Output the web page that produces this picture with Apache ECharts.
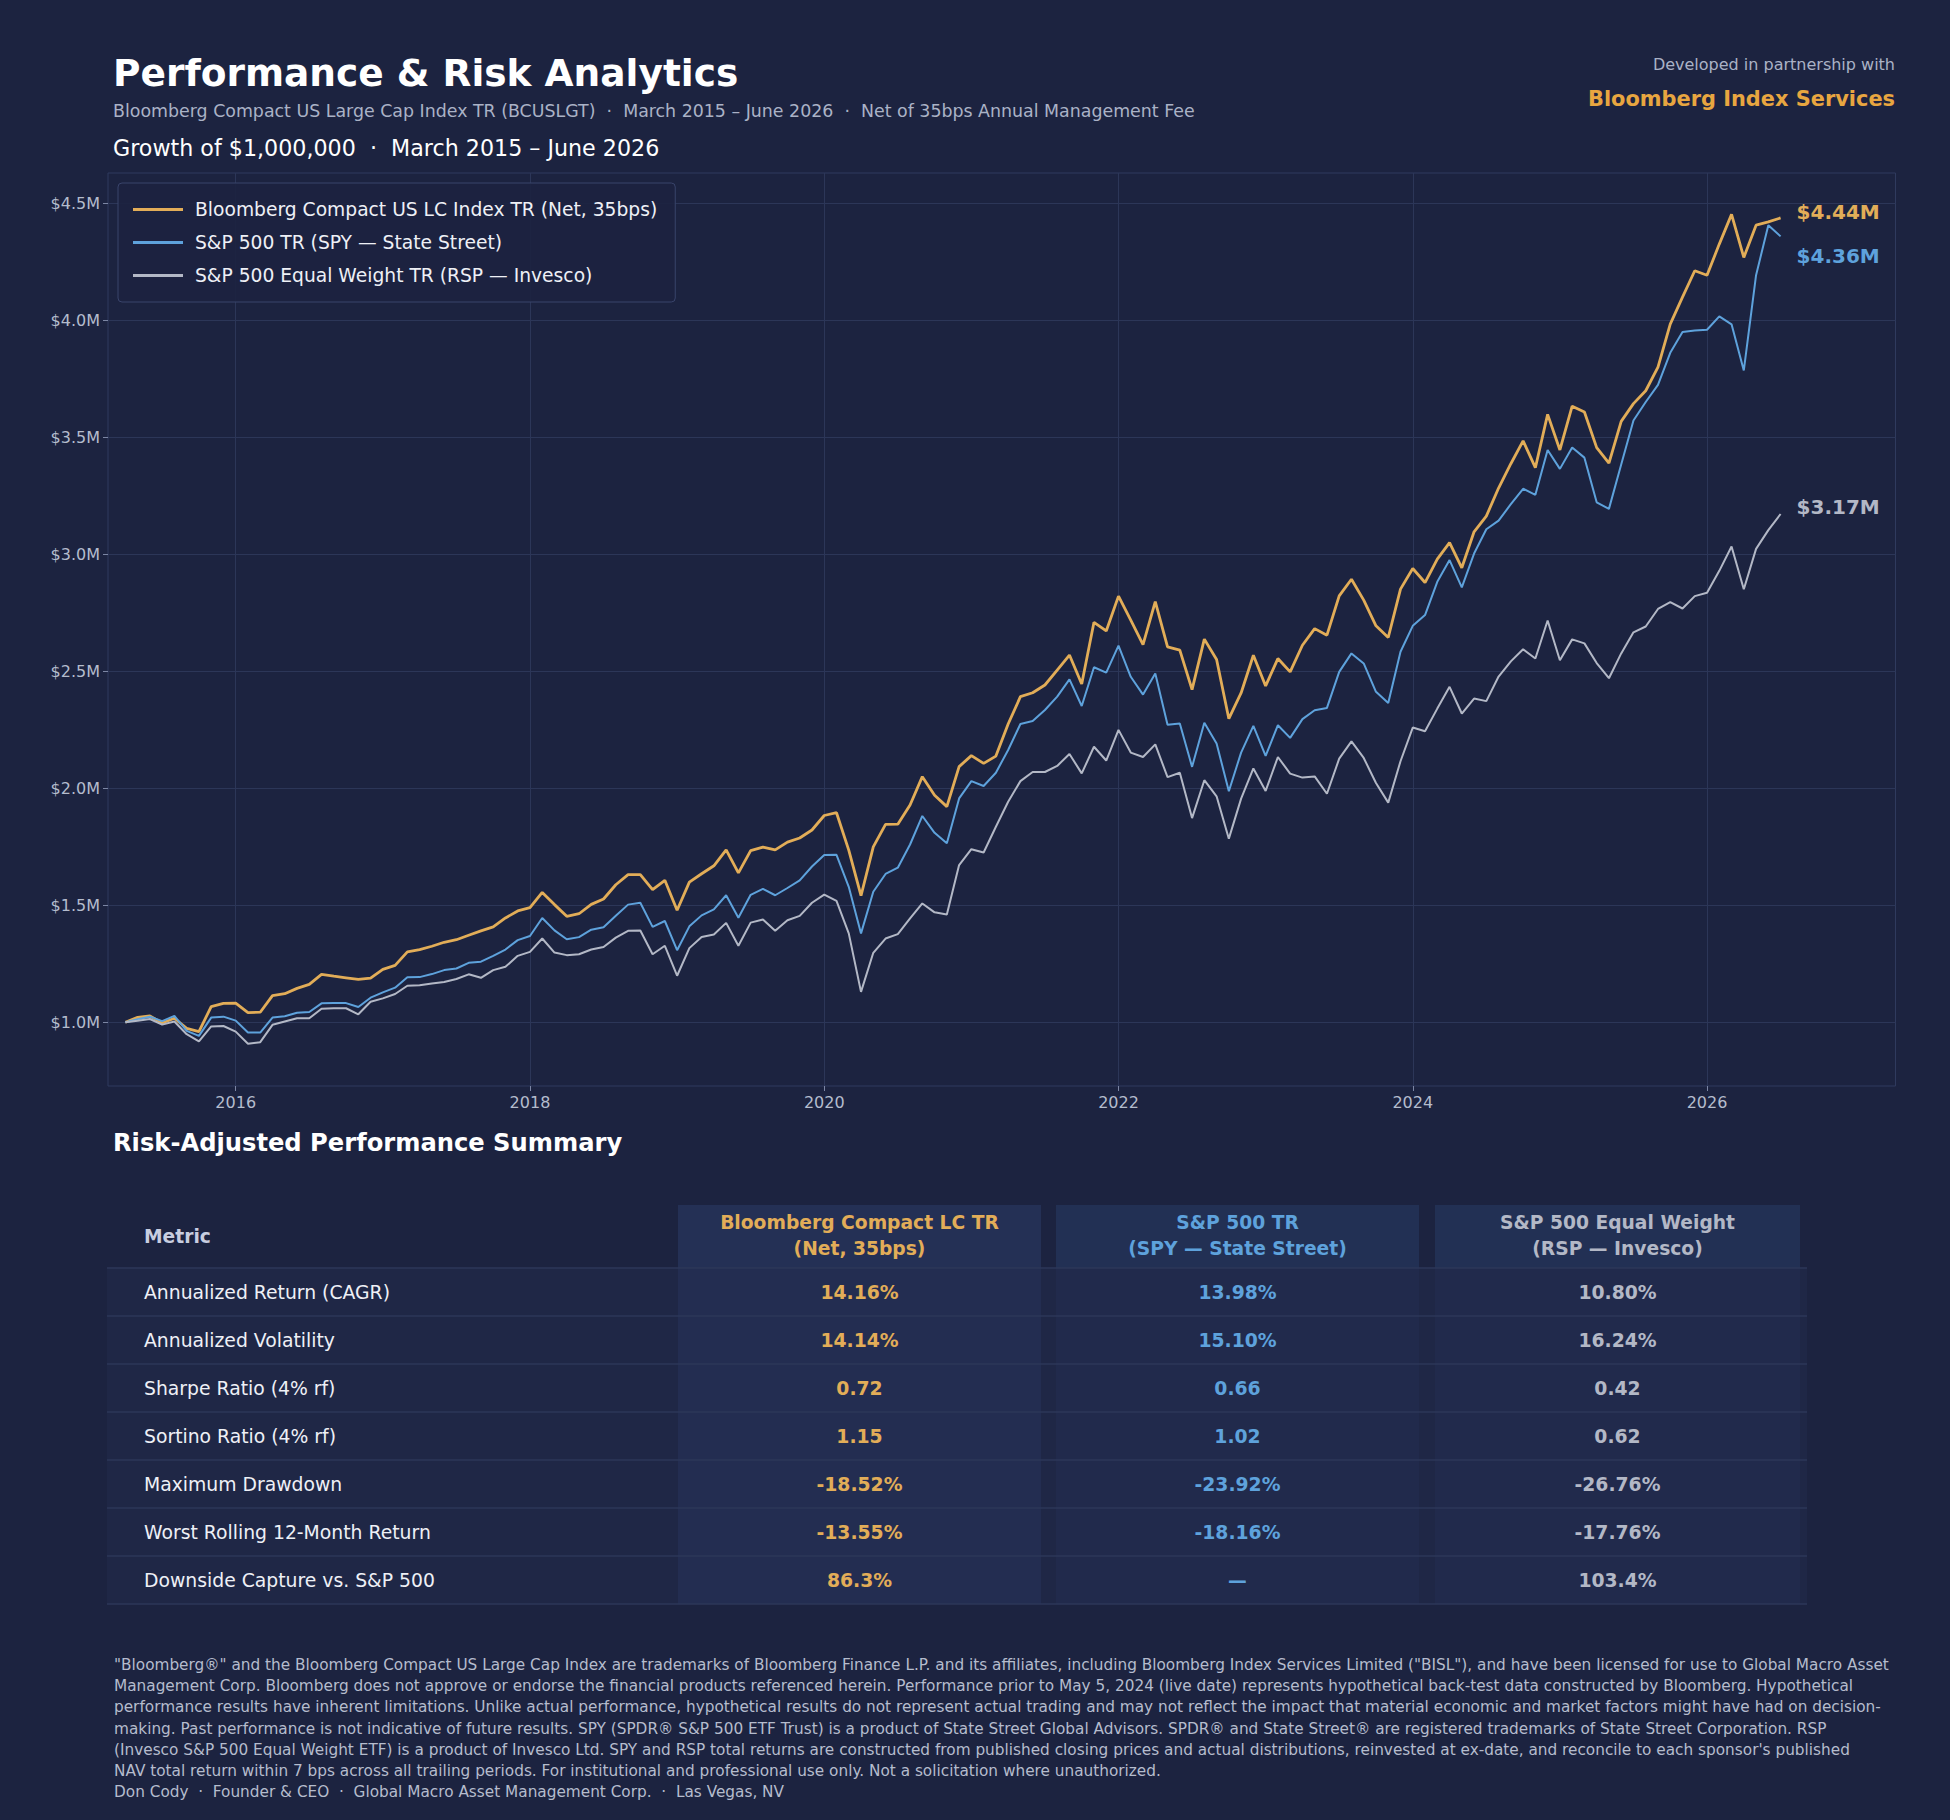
<!DOCTYPE html>
<html><head><meta charset="utf-8">
<script src="https://cdn.jsdelivr.net/npm/echarts@6/dist/echarts.min.js"></script>
<style>html,body{margin:0;padding:0;background:#1c2340;}#c{width:1950px;height:1820px;}</style>
</head><body><div id="c"></div>
<script>
// ---------- DATA ----------
const startYear = 2015, startMonth = 3; // first observation: end of March 2015, monthly
const seriesNames = ['Bloomberg Compact US LC Index TR (Net, 35bps)', 'S&P 500 TR (SPY — State Street)', 'S&P 500 Equal Weight TR (RSP — Invesco)'];
const bbg = [1.000,1.021,1.027,0.997,1.017,0.974,0.960,1.067,1.081,1.082,1.041,1.043,1.114,1.122,1.145,1.162,1.205,1.197,1.190,1.183,1.189,1.226,1.243,1.301,1.311,1.325,1.342,1.353,1.372,1.391,1.408,1.446,1.476,1.490,1.555,1.503,1.453,1.464,1.504,1.527,1.588,1.631,1.631,1.567,1.607,1.479,1.599,1.635,1.669,1.737,1.639,1.734,1.749,1.737,1.770,1.788,1.822,1.884,1.896,1.736,1.541,1.750,1.846,1.847,1.929,2.050,1.971,1.922,2.093,2.140,2.107,2.138,2.275,2.392,2.409,2.442,2.506,2.570,2.446,2.710,2.673,2.822,2.719,2.615,2.798,2.605,2.591,2.422,2.638,2.551,2.298,2.408,2.569,2.438,2.555,2.498,2.612,2.683,2.655,2.823,2.894,2.805,2.695,2.645,2.852,2.940,2.880,2.980,3.051,2.943,3.097,3.164,3.284,3.388,3.486,3.371,3.599,3.447,3.634,3.609,3.457,3.391,3.569,3.645,3.700,3.801,3.985,4.100,4.213,4.194,4.327,4.454,4.270,4.408,4.422,4.439];
const spy = [1.000,1.013,1.024,1.005,1.027,0.963,0.942,1.020,1.024,1.007,0.956,0.956,1.020,1.026,1.041,1.044,1.081,1.082,1.082,1.065,1.105,1.128,1.148,1.192,1.193,1.206,1.223,1.230,1.254,1.259,1.284,1.311,1.351,1.369,1.446,1.393,1.355,1.364,1.396,1.406,1.455,1.503,1.511,1.408,1.433,1.308,1.410,1.457,1.483,1.543,1.447,1.545,1.570,1.543,1.574,1.607,1.666,1.715,1.716,1.579,1.380,1.558,1.634,1.661,1.760,1.882,1.810,1.765,1.957,2.031,2.010,2.067,2.164,2.275,2.288,2.335,2.392,2.466,2.352,2.518,2.495,2.610,2.477,2.401,2.491,2.272,2.277,2.092,2.281,2.192,1.988,2.153,2.267,2.139,2.270,2.216,2.296,2.334,2.344,2.498,2.577,2.534,2.413,2.365,2.584,2.695,2.741,2.883,2.976,2.859,3.004,3.108,3.145,3.215,3.281,3.255,3.447,3.366,3.457,3.414,3.223,3.195,3.385,3.573,3.652,3.725,3.862,3.951,3.958,3.961,4.018,3.984,3.787,4.194,4.408,4.360];
const rsp = [1.000,1.006,1.014,0.990,1.003,0.949,0.918,0.982,0.984,0.960,0.908,0.915,0.989,1.003,1.017,1.017,1.058,1.060,1.060,1.034,1.088,1.102,1.121,1.156,1.158,1.166,1.172,1.185,1.205,1.190,1.223,1.237,1.284,1.301,1.358,1.298,1.287,1.291,1.311,1.322,1.362,1.391,1.392,1.291,1.327,1.199,1.317,1.365,1.375,1.425,1.327,1.426,1.439,1.391,1.436,1.455,1.511,1.546,1.519,1.380,1.130,1.297,1.358,1.377,1.444,1.508,1.470,1.461,1.672,1.740,1.726,1.836,1.943,2.031,2.070,2.070,2.096,2.147,2.064,2.178,2.119,2.250,2.153,2.134,2.188,2.048,2.067,1.873,2.035,1.966,1.785,1.956,2.085,1.989,2.134,2.063,2.046,2.051,1.977,2.127,2.201,2.130,2.023,1.939,2.116,2.260,2.244,2.341,2.434,2.320,2.384,2.373,2.478,2.543,2.595,2.555,2.718,2.548,2.637,2.620,2.536,2.471,2.577,2.667,2.692,2.767,2.796,2.769,2.822,2.836,2.930,3.034,2.851,3.024,3.104,3.173];
const endLabels = ['$4.44M', '$4.36M', '$3.17M'];
const xTickYears = [2016, 2018, 2020, 2022, 2024, 2026];
const yTickValues = [1.0, 1.5, 2.0, 2.5, 3.0, 3.5, 4.0, 4.5];

const metrics = ['Annualized Return (CAGR)', 'Annualized Volatility', 'Sharpe Ratio (4% rf)', 'Sortino Ratio (4% rf)', 'Maximum Drawdown', 'Worst Rolling 12-Month Return', 'Downside Capture vs. S&P 500'];
const bbgStats = ['14.16%', '14.14%', '0.72', '1.15', '-18.52%', '-13.55%', '86.3%'];
const spyStats = ['13.98%', '15.10%', '0.66', '1.02', '-23.92%', '-18.16%', '—'];
const rspStats = ['10.80%', '16.24%', '0.42', '0.62', '-26.76%', '-17.76%', '103.4%'];
const colHeaders = [['Bloomberg Compact LC TR', '(Net, 35bps)'], ['S&P 500 TR', '(SPY — State Street)'], ['S&P 500 Equal Weight', '(RSP — Invesco)']];
const footerLines = [
  '"Bloomberg®" and the Bloomberg Compact US Large Cap Index are trademarks of Bloomberg Finance L.P. and its affiliates, including Bloomberg Index Services Limited ("BISL"), and have been licensed for use to Global Macro Asset',
  'Management Corp. Bloomberg does not approve or endorse the financial products referenced herein. Performance prior to May 5, 2024 (live date) represents hypothetical back-test data constructed by Bloomberg. Hypothetical',
  'performance results have inherent limitations. Unlike actual performance, hypothetical results do not represent actual trading and may not reflect the impact that material economic and market factors might have had on decision-',
  'making. Past performance is not indicative of future results. SPY (SPDR® S&P 500 ETF Trust) is a product of State Street Global Advisors. SPDR® and State Street® are registered trademarks of State Street Corporation. RSP',
  '(Invesco S&P 500 Equal Weight ETF) is a product of Invesco Ltd. SPY and RSP total returns are constructed from published closing prices and actual distributions, reinvested at ex-date, and reconcile to each sponsor\'s published',
  'NAV total return within 7 bps across all trailing periods. For institutional and professional use only. Not a solicitation where unauthorized.',
  'Don Cody  ·  Founder & CEO  ·  Global Macro Asset Management Corp.  ·  Las Vegas, NV'
];

// ---------- STYLE ----------
const FONT = '"DejaVu Sans", "Noto Sans", sans-serif';
const BG = '#1c2340';
const GOLD = '#e2ad58', BLUE = '#5ea2dc', GRAY = '#b3b8c6';
const colors = [GOLD, BLUE, GRAY];

function monthX(i) { return startYear + (startMonth + i) / 12; }
const allSeries = [bbg, spy, rsp];
const pairs = allSeries.map(arr => arr.map((v, i) => [monthX(i), v]));

function T(x, y, text, size, fill, weight, align) {
  const a = align || 'left';
  return { type: 'text', x: x, y: y, silent: true, z: 10,
    style: { text: text, fill: fill, font: (weight || 'normal') + ' ' + size + 'px ' + FONT,
      align: a, verticalAlign: 'middle', textAlign: a, textVerticalAlign: 'middle' } };
}
function R(x, y, w, h, fill) {
  return { type: 'rect', silent: true, z: 1, shape: { x: x, y: y, width: w, height: h }, style: { fill: fill } };
}
function L(x1, y1, x2, y2, stroke, w) {
  return { type: 'line', silent: true, z: 2, shape: { x1: x1, y1: y1, x2: x2, y2: y2 }, style: { stroke: stroke, lineWidth: w } };
}

const graphics = [];
// Header texts
graphics.push(T(113, 73, 'Performance & Risk Analytics', 37.5, '#ffffff', 'bold'));
graphics.push(T(113, 111, 'Bloomberg Compact US Large Cap Index TR (BCUSLGT)  ·  March 2015 – June 2026  ·  Net of 35bps Annual Management Fee', 17.4, '#aab2c6'));
graphics.push(T(113, 148, 'Growth of $1,000,000  ·  March 2015 – June 2026', 22.2, '#ffffff'));
graphics.push(T(1895, 64, 'Developed in partnership with', 16, '#aab2c6', 'normal', 'right'));
graphics.push(T(1895, 99, 'Bloomberg Index Services', 20.9, '#e8a640', 'bold', 'right'));

// Table
graphics.push(T(113, 1143, 'Risk-Adjusted Performance Summary', 24.2, '#ffffff', 'bold'));
const tLeft = 107, tRight = 1807, headTop = 1205, headBot = 1268, rowH = 48;
const cols = [[678, 1041], [1056, 1419], [1435, 1800]];
const headFill = ['#243055', '#223054', '#223054'];
const cellFill = ['#232d51', '#212a4c', '#212a4c'];
const nRows = metrics.length;
const TF = 18.8;
graphics.push(R(tLeft, headBot, tRight - tLeft, rowH * nRows, '#1f2746'));
cols.forEach((c, k) => {
  graphics.push(R(c[0], headTop, c[1] - c[0], headBot - headTop, headFill[k]));
  graphics.push(R(c[0], headBot, c[1] - c[0], rowH * nRows, cellFill[k]));
  const cx = (c[0] + c[1]) / 2;
  graphics.push(T(cx, 1222, colHeaders[k][0], 18.7, colors[k], 'bold', 'center'));
  graphics.push(T(cx, 1248, colHeaders[k][1], 18.7, colors[k], 'bold', 'center'));
});
graphics.push(T(144, 1236, 'Metric', 18.7, '#c8cee0', 'bold'));
graphics.push(L(tLeft, headBot, tRight, headBot, '#2d3759', 1.5));
const statCols = [bbgStats, spyStats, rspStats];
metrics.forEach((m, r) => {
  const cy = headBot + rowH * r + rowH / 2;
  graphics.push(T(144, cy, m, TF, '#eef0f6'));
  statCols.forEach((vals, k) => {
    graphics.push(T((cols[k][0] + cols[k][1]) / 2, cy, vals[r], TF, colors[k], 'bold', 'center'));
  });
  graphics.push(L(tLeft, headBot + rowH * (r + 1), tRight, headBot + rowH * (r + 1), '#2d3759', 1.5));
});

// Footer
footerLines.forEach((line, i) => {
  graphics.push(T(114, 1665 + i * 21.2, line, 15.3, '#b5bccd'));
});

const chart = echarts.init(document.getElementById('c'), null, { renderer: 'svg', width: 1950, height: 1820 });
const endOffsets = [[11, -6], [11, 20], [11, -7]];

chart.setOption({
  backgroundColor: BG,
  animation: false,
  textStyle: { fontFamily: FONT },
  grid: { left: 108, top: 173, width: 1787.5, height: 913, show: true, borderColor: '#2f3a5e', borderWidth: 1, backgroundColor: 'transparent', containLabel: false },
  legend: {
    left: 118, top: 183, orient: 'vertical', selectedMode: false,
    backgroundColor: 'rgba(28,35,64,0.92)', borderColor: '#39446b', borderWidth: 1, borderRadius: 4,
    padding: [17, 18, 17, 15], itemGap: 14, itemWidth: 50, itemHeight: 3, icon: 'rect',
    textStyle: { color: '#eef0f6', fontSize: 18.7, fontFamily: FONT, padding: [0, 0, 0, 7] },
    data: seriesNames
  },
  xAxis: {
    type: 'value', min: 2015.132, max: 2027.281,
    axisLine: { show: false },
    axisTick: { show: true, length: 5, lineStyle: { color: '#7c86a4' }, customValues: xTickYears },
    axisLabel: { color: '#b4bccd', fontSize: 16, fontFamily: FONT, margin: 8, customValues: xTickYears, formatter: v => String(Math.round(v)) },
    splitLine: { show: true, lineStyle: { color: '#2c3658', width: 1 } }
  },
  yAxis: {
    type: 'value', min: 0.7275, max: 4.631,
    axisLine: { show: false },
    axisTick: { show: true, length: 5, lineStyle: { color: '#7c86a4' }, customValues: yTickValues },
    axisLabel: { color: '#b4bccd', fontSize: 16, fontFamily: FONT, margin: 8, customValues: yTickValues, formatter: v => '$' + v.toFixed(1) + 'M' },
    splitLine: { show: true, lineStyle: { color: '#2c3658', width: 1 } }
  },
  series: pairs.map((d, k) => ({
    name: seriesNames[k], type: 'line', data: d, showSymbol: false, symbol: 'none', smooth: false,
    color: colors[k], lineStyle: { width: k === 0 ? 2.8 : 2, color: colors[k] },
    z: 3 + k,
    markPoint: {
      symbol: 'circle', symbolSize: 0, silent: true,
      data: [{ coord: d[d.length - 1],
        label: { show: true, position: 'right', distance: 5, offset: endOffsets[k], formatter: endLabels[k], color: colors[k], fontSize: 20, fontWeight: 'bold', fontFamily: FONT } }]
    }
  })),
  graphic: { elements: graphics }
});
</script></body></html>
